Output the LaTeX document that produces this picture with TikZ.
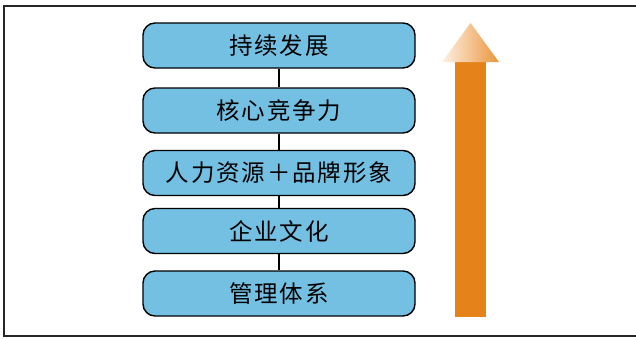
\documentclass[tikz,border=0pt]{standalone}
\usepackage{fontspec}
\setmainfont{Noto Sans CJK SC}
\newfontfamily\layerfont[LetterSpace=8]{Noto Sans CJK SC}
\definecolor{skyblue}{HTML}{74C0E3}
\definecolor{carrot}{HTML}{E6821A}
\definecolor{peach}{HTML}{FDF1E4}

\begin{document}
\begin{tikzpicture}[x=1pt,y=-1pt,
	layer/.style={draw=black,line width=1.4pt,fill=skyblue,rounded corners=12pt,
		minimum width=272pt,minimum height=45pt,inner sep=0pt,font=\layerfont\fontsize{23.5}{25}\selectfont},
	link/.style={line width=1.4pt}]
		\useasboundingbox (0,0) rectangle (636,338);
		\draw[line width=2pt,black!85] (640,6) -- (4,6) -- (4,336) -- (640,336);
		\node[layer] (fazhan) at (279,45.5) {持续发展};
		\node[layer] (jingzheng) at (279,110.5) {核心竞争力};
		\node[layer] (ziyuan) at (279,173) {人力资源＋品牌形象};
		\node[layer] (wenhua) at (279,231) {企业文化};
		\node[layer] (guanli) at (279,293.5) {管理体系};
		\draw[link] (fazhan) -- (jingzheng);
		\draw[link] (jingzheng) -- (ziyuan);
		\draw[link] (ziyuan) -- (wenhua);
		\draw[link] (wenhua) -- (guanli);
		% growth arrow
		\fill[carrot] (455,317) rectangle (486,62);
		\shade[left color=peach,right color=carrot!85] (442,62) -- (470.5,23) -- (499,62) -- cycle;
	\end{tikzpicture}
\end{document}
